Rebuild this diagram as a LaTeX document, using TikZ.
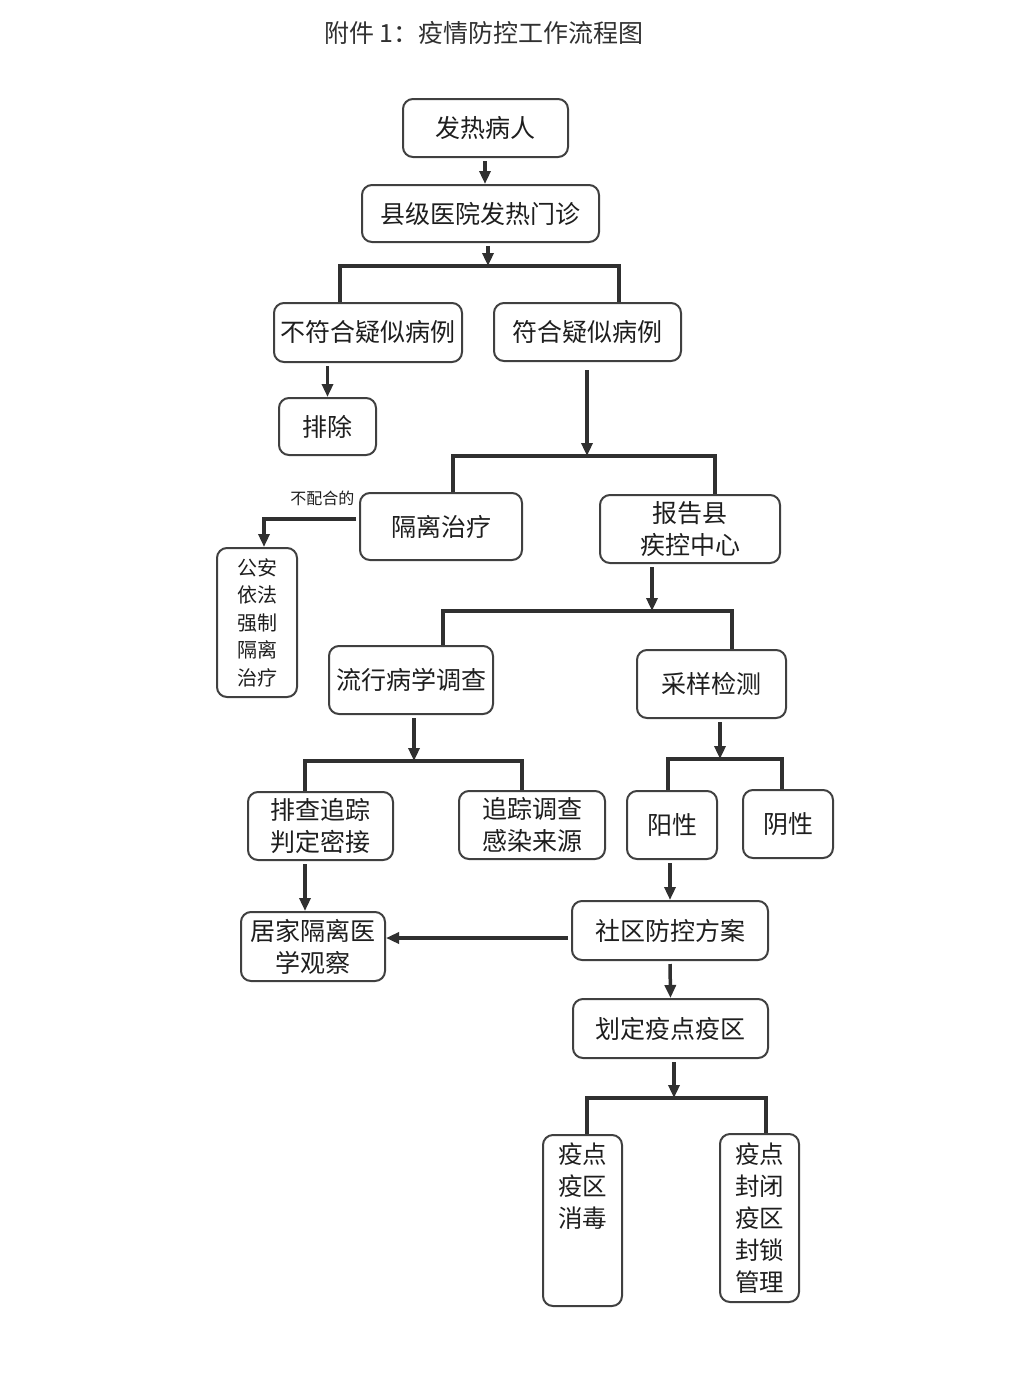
\documentclass[tikz,border=0pt]{standalone}
\usepackage{fontspec}
\setmainfont{Noto Sans CJK SC}
\usetikzlibrary{arrows.meta}
\definecolor{linegray}{HTML}{303030}
\definecolor{boxgray}{HTML}{404040}
\definecolor{txtgray}{HTML}{1E1E1E}

\begin{document}
\begin{tikzpicture}[x=1pt,y=1pt,yscale=-1,xscale=1,
  box/.style={draw=boxgray, line width=2pt, rounded corners=10pt, inner sep=0pt, align=center, text=txtgray, font=\fontsize{25}{32}\selectfont},
  stacktxt/.style={inner sep=0pt, align=center, text=txtgray, font=\fontsize{24.5}{32}\selectfont},
  conn/.style={draw=linegray, line width=3.5pt},
  arr/.style={conn, -{Triangle[length=13pt,width=11pt]}, shorten <=3pt},
  lbl/.style={inner sep=0pt, text=txtgray, font=\fontsize{16}{18}\selectfont}]
\useasboundingbox (0,0) rectangle (1012,1379);

% Text Node
\node[text=linegray, font=\fontsize{25}{28}\selectfont] (title) at (484,33) {附件 1：疫情防控工作流程图};

%Rounded Rect
\node[box, minimum width=165, minimum height=58] (fever) at (485.5,128) {发热病人};
\node[box, minimum width=237, minimum height=57] (clinic) at (480.5,213.5) {县级医院发热门诊};
\node[box, minimum width=188, minimum height=59] (nosusp) at (368,332.5) {不符合疑似病例};
\node[box, minimum width=187, minimum height=58] (susp) at (587.5,332) {符合疑似病例};
\node[box, minimum width=97, minimum height=57] (exclude) at (327.5,426.5) {排除};
\node[box, minimum width=162, minimum height=67] (isolate) at (441,526.5) {隔离治疗};
\node[box, minimum width=180, minimum height=68] (report) at (690,529) {报告县\\疾控中心};
\node[box, minimum width=80, minimum height=149, font=\fontsize{20}{27.5}\selectfont] (police) at (257,622.5) {公安\\依法\\强制\\隔离\\治疗};
\node[box, minimum width=164, minimum height=68] (epi) at (411,680) {流行病学调查};
\node[box, minimum width=149, minimum height=68] (sample) at (711.5,684) {采样检测};
\node[box, minimum width=145, minimum height=68] (contact) at (320.5,826) {排查追踪\\判定密接};
\node[box, minimum width=146, minimum height=68] (source) at (532,825) {追踪调查\\感染来源};
\node[box, minimum width=90, minimum height=68] (pos) at (672,825) {阳性};
\node[box, minimum width=90, minimum height=68] (neg) at (788,824) {阴性};
\node[box, minimum width=144, minimum height=69] (home) at (313,946.5) {居家隔离医\\学观察};
\node[box, minimum width=196, minimum height=59] (plan) at (670,930.5) {社区防控方案};
\node[box, minimum width=195, minimum height=59] (zone) at (670.5,1028.5) {划定疫点疫区};
\node[box, minimum width=79, minimum height=171] (disinf) at (582.5,1220.5) {};
\node[stacktxt, anchor=north] (disinftxt) at ([yshift=9pt]disinf.north) {疫点\\疫区\\消毒};
\node[box, minimum width=79, minimum height=168, font=\fontsize{24.5}{32}\selectfont] (lockdown) at (759.5,1218) {疫点\\封闭\\疫区\\封锁\\管理};

% Junctions
\coordinate (j1) at (488,266);
\coordinate (j1l) at (340,266);
\coordinate (j1r) at (619,266);
\coordinate (j2) at (587,456);
\coordinate (j2l) at (453,456);
\coordinate (j2r) at (715,456);
\coordinate (j3) at (652,611);
\coordinate (j3l) at (443,611);
\coordinate (j3r) at (732,611);
\coordinate (j4) at (414,761);
\coordinate (j4l) at (305,761);
\coordinate (j4r) at (522,761);
\coordinate (j5) at (720,759);
\coordinate (j5l) at (668,759);
\coordinate (j5r) at (782,759);
\coordinate (j6) at (674,1098);
\coordinate (j6l) at (587,1098);
\coordinate (j6r) at (766,1098);
\coordinate (bend) at (264,519);

%Straight Lines
\draw[arr] (fever.south -| 485,0) -- (clinic.north -| 485,0);
\draw[arr] (clinic.south -| j1) -- (j1);
\draw[conn] (j1l |- nosusp.north) -- (j1l) -- (j1r) -- (j1r |- susp.north);
\draw[arr] (nosusp.south -| exclude.north) -- (exclude.north);
\draw[arr, shorten <=8pt] (susp.south -| j2) -- (j2);
\draw[conn] (j2l |- isolate.north) -- (j2l) -- (j2r) -- (j2r |- report.north);
\draw[arr] ([yshift=-7.5pt]isolate.west) node[lbl, anchor=south east, xshift=-3pt, yshift=12pt] (refuse) {不配合的} -- (bend) -- (bend |- police.north);
\draw[arr] (report.south -| j3) -- (j3);
\draw[conn] (j3l |- epi.north) -- (j3l) -- (j3r) -- (j3r |- sample.north);
\draw[arr] (epi.south -| j4) -- (j4);
\draw[conn] (j4l |- contact.north) -- (j4l) -- (j4r) -- (j4r |- source.north);
\draw[arr] (sample.south -| j5) -- (j5);
\draw[conn] (j5l |- pos.north) -- (j5l) -- (j5r) -- (j5r |- neg.north);
\draw[arr] (contact.south -| j4l) -- (home.north -| j4l);
\draw[arr] (pos.south -| plan.north) -- (plan.north);
\draw[arr] ([yshift=7.5pt]plan.west) -- ([yshift=7.5pt]plan.west -| home.east);
\draw[arr] (plan.south) -- (zone.north);
\draw[arr] (zone.south -| j6) -- (j6);
\draw[conn] (j6l |- disinf.north) -- (j6l) -- (j6r) -- (j6r |- lockdown.north);

\end{tikzpicture}
\end{document}
